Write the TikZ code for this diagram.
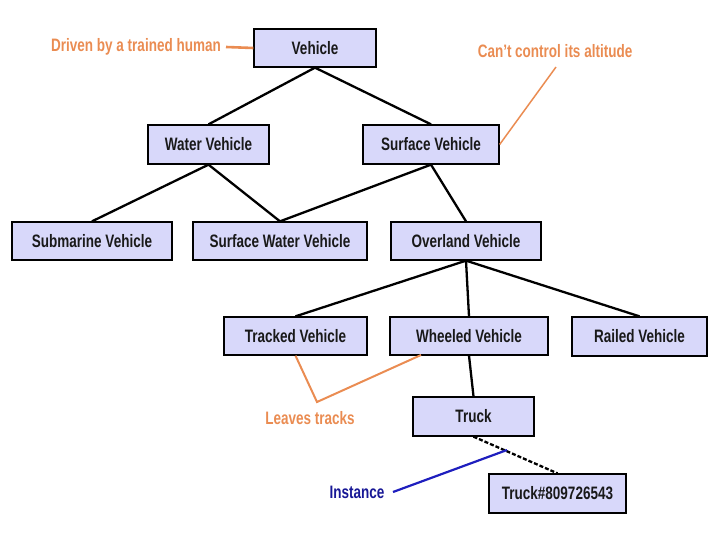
\documentclass[tikz,border=0pt]{standalone}
\usepackage{fontspec}
\setmainfont{Liberation Sans}[FakeStretch=0.75]
\definecolor{boxfill}{RGB}{216,216,250}
\definecolor{annor}{RGB}{234,140,82}
\definecolor{annblue}{RGB}{24,24,150}
\definecolor{lineblue}{RGB}{30,30,190}
\begin{document}
\begin{tikzpicture}[x=1pt,y=-1pt,
  cls/.style={draw=black,line width=1.3pt,fill=boxfill,inner sep=0pt,
    font=\fontsize{18}{21}\selectfont\bfseries,text=black!90},
  note/.style={inner sep=0pt,font=\fontsize{18}{21}\selectfont\bfseries},
  link/.style={draw=black,line width=2.3pt},
  olink/.style={draw=annor,line width=1.5pt},
]
\useasboundingbox (0,0) rectangle (720,540);
% classes
\node[cls,minimum width=122pt,minimum height=38pt] (veh) at (315,48) {Vehicle};
\node[cls,minimum width=121pt,minimum height=39pt] (wat) at (208.5,144.5) {Water Vehicle};
\node[cls,minimum width=136pt,minimum height=39pt] (sur) at (431,144.5) {Surface Vehicle};
\node[cls,minimum width=160pt,minimum height=38pt] (sub) at (92,241) {Submarine Vehicle};
\node[cls,minimum width=174pt,minimum height=38pt] (swv) at (280,241) {Surface Water Vehicle};
\node[cls,minimum width=150pt,minimum height=38pt] (ovl) at (466,241) {Overland Vehicle};
\node[cls,minimum width=143pt,minimum height=38pt] (trk) at (295.5,336) {Tracked Vehicle};
\node[cls,minimum width=158pt,minimum height=38pt] (whl) at (469,336) {Wheeled Vehicle};
\node[cls,minimum width=135pt,minimum height=39pt] (ral) at (639.5,336.5) {Railed Vehicle};
\node[cls,minimum width=121pt,minimum height=39pt] (tru) at (473.5,416.5) {Truck};
\node[cls,minimum width=137pt,minimum height=39pt] (tri) at (557.5,493.5) {Truck\#809726543};
% hierarchy
\draw[link] (veh.south) -- (wat.north);
\draw[link] (veh.south) -- (sur.north);
\draw[link] (wat.south) -- (sub.north);
\draw[link] (wat.south) -- (swv.north);
\draw[link] (sur.south) -- (swv.north);
\draw[link] (sur.south) -- (ovl.north);
\draw[link] (ovl.south) -- (trk.north);
\draw[link] (ovl.south) -- (whl.north);
\draw[link] (ovl.south) -- (ral.north);
\draw[link] (whl.south) -- (tru.north);
\draw[link,dash pattern=on 4pt off 2pt] (tru.south) -- (tri.north);
% annotations
\node[note,text=annor] (drv) at (136,47) {Driven by a trained human};
\coordinate (drvS) at (226,47);
\draw[draw=annor,line width=2.6pt] (drvS) -- (veh.west);
\node[note,text=annor] (alt) at (555,51) {Can't control its altitude};
\coordinate (altS) at (556,67);
\draw[olink] (altS) -- (sur.east);
\node[note,text=annor] (lvs) at (310,418) {Leaves tracks};
\coordinate (lvV) at (317,402);
\coordinate (lvE) at (421,355);
\draw[olink,line width=2pt] (trk.south) -- (lvV) -- (lvE);
\node[note,text=annblue] (ins) at (357,492) {Instance};
\coordinate (insS) at (393,492);
\coordinate (insE) at (507,450);
\draw[draw=lineblue,line width=2.2pt] (insS) -- (insE);
\end{tikzpicture}
\end{document}
